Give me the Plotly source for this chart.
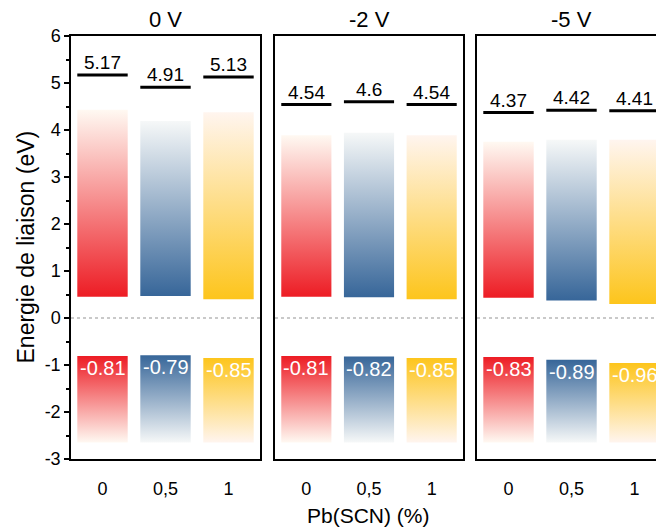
import plotly.graph_objects as go

# ---- data ----
categories = ["0", "0,5", "1"]
panels = ["0 V", "-2 V", "-5 V"]
y_tickvals = [-3, -2, -1, 0, 1, 2, 3, 4, 5, 6]
y_ticktext = ["-3", "-2", "-1", "0", "1", "2", "3", "4", "5", "6"]

line_0V = [5.17, 4.91, 5.13]
line_m2V = [4.54, 4.6, 4.54]
line_m5V = [4.37, 4.42, 4.41]

low_0V = [-0.81, -0.79, -0.85]
low_m2V = [-0.81, -0.82, -0.85]
low_m5V = [-0.83, -0.89, -0.96]

# upper gradient bars (bottom -> faded top)
up_top_0V = [4.43, 4.19, 4.38]
up_bot_0V = [0.45, 0.47, 0.40]
up_top_m2V = [3.89, 3.94, 3.89]
up_bot_m2V = [0.45, 0.44, 0.40]
up_top_m5V = [3.75, 3.79, 3.79]
up_bot_m5V = [0.43, 0.37, 0.30]

# lower gradient bars fade bottom
low_fade_0V = [-2.65, -2.65, -2.65]
low_fade_m2V = [-2.65, -2.65, -2.65]
low_fade_m5V = [-2.65, -2.65, -2.65]

# ---- style ----
colors = ["#ED1C24", "#376699", "#FDC51C"]
fade = ["#FFF9F2", "#F6F8F8", "#FFF5EF"]
FONT = "Liberation Sans, Arial, sans-serif"
HW = 0.4  # half bar width (category units)

lines = [line_0V, line_m2V, line_m5V]
lows = [low_0V, low_m2V, low_m5V]
up_tops = [up_top_0V, up_top_m2V, up_top_m5V]
up_bots = [up_bot_0V, up_bot_m2V, up_bot_m5V]
low_fades = [low_fade_0V, low_fade_m2V, low_fade_m5V]

domains = [[0.0, 189 / 585], [204 / 585, 392 / 585], [406 / 585, 1.0]]
xranges = [[-0.5, 2.5], [-0.5, 2.5], [-0.5, 2.341]]

fig = go.Figure()
annotations = []

for p in range(3):
    xa = "x" if p == 0 else f"x{p+1}"
    ya = "y" if p == 0 else f"y{p+1}"
    # zero dotted line
    fig.add_trace(go.Scatter(
        x=[xranges[p][0], xranges[p][1]], y=[0, 0], mode="lines",
        line=dict(color="#B8B8B8", width=1.5, dash="dot"),
        xaxis=xa, yaxis=ya, showlegend=False, hoverinfo="skip"))
    for i in range(3):
        xl, xr = i - HW, i + HW
        # upper gradient bar
        fig.add_trace(go.Scatter(
            x=[xl, xr, xr, xl, xl],
            y=[up_bots[p][i], up_bots[p][i], up_tops[p][i], up_tops[p][i], up_bots[p][i]],
            mode="lines", fill="toself",
            fillgradient=dict(type="vertical",
                              colorscale=[[0, colors[i]], [1, fade[i]]],
                              start=up_bots[p][i], stop=up_tops[p][i]),
            line=dict(width=0, color="rgba(0,0,0,0)"),
            xaxis=xa, yaxis=ya, showlegend=False, hoverinfo="skip"))
        # lower gradient bar
        fig.add_trace(go.Scatter(
            x=[xl, xr, xr, xl, xl],
            y=[low_fades[p][i], low_fades[p][i], lows[p][i], lows[p][i], low_fades[p][i]],
            mode="lines", fill="toself",
            fillgradient=dict(type="vertical",
                              colorscale=[[0, fade[i]], [1, colors[i]]],
                              start=low_fades[p][i], stop=lows[p][i]),
            line=dict(width=0, color="rgba(0,0,0,0)"),
            xaxis=xa, yaxis=ya, showlegend=False, hoverinfo="skip"))
        # black level line
        fig.add_trace(go.Scatter(
            x=[xl, xr], y=[lines[p][i], lines[p][i]], mode="lines",
            line=dict(color="black", width=3),
            xaxis=xa, yaxis=ya, showlegend=False, hoverinfo="skip"))
        annotations.append(dict(
            x=i, y=lines[p][i], xref=xa, yref=ya, text=f"{lines[p][i]:g}",
            showarrow=False, yanchor="bottom", yshift=0,
            font=dict(family=FONT, size=19, color="black")))
        annotations.append(dict(
            x=i, y=lows[p][i], xref=xa, yref=ya, text=f"{lows[p][i]:g}",
            showarrow=False, yanchor="top", yshift=1,
            font=dict(family=FONT, size=20, color="white")))
    # panel title
    annotations.append(dict(
        x=1, y=1, xref=xa, yref="paper", text=panels[p], showarrow=False,
        yanchor="middle", yshift=17,
        font=dict(family=FONT, size=22, color="black")))

annotations.append(dict(
    x=0.508, y=0, xref="paper", yref="paper", text="Pb(SCN) (%)", showarrow=False,
    yanchor="middle", yshift=-56, font=dict(family=FONT, size=21, color="black")))
annotations.append(dict(
    x=0, y=0.5, xref="paper", yref="paper", text="Energie de liaison (eV)",
    showarrow=False, textangle=-90, xanchor="center", yanchor="middle",
    xshift=-46, font=dict(family=FONT, size=23, color="black")))

layout = dict(
    width=656, height=530,
    margin=dict(l=71, r=0, t=36, b=71),
    paper_bgcolor="white", plot_bgcolor="white",
    font=dict(family=FONT, color="black"),
    annotations=annotations,
    showlegend=False,
)

for p in range(3):
    xk = "xaxis" if p == 0 else f"xaxis{p+1}"
    yk = "yaxis" if p == 0 else f"yaxis{p+1}"
    ya_anchor = "y" if p == 0 else f"y{p+1}"
    xa_anchor = "x" if p == 0 else f"x{p+1}"
    layout[xk] = dict(
        domain=domains[p], range=xranges[p], anchor=ya_anchor,
        tickmode="array", tickvals=[0, 1, 2], ticktext=categories,
        showgrid=False, zeroline=False, showline=True, linecolor="black",
        linewidth=1.5, mirror=True, ticks="", ticklabelstandoff=13,
        tickfont=dict(family=FONT, size=18, color="black"))
    yd = dict(
        range=[-3, 6], anchor=xa_anchor, domain=[0, 1],
        showgrid=False, zeroline=False, showline=True, linecolor="black",
        linewidth=1.5, mirror=(p < 2))
    if p == 0:
        yd.update(tickmode="array", tickvals=y_tickvals, ticktext=y_ticktext,
                  ticks="outside", ticklen=5, tickwidth=1.5, tickcolor="black",
                  minor=dict(tick0=-3, dtick=0.5, ticks="outside", ticklen=3,
                             tickwidth=1.5, tickcolor="black"),
                  tickfont=dict(family=FONT, size=18, color="black"))
    else:
        yd.update(showticklabels=False, ticks="")
    layout[yk] = yd

fig.update_layout(**layout)
fig.write_html(
    "out.html",
    config={"displayModeBar": False},
    post_script="document.body.style.margin='0';document.body.style.overflow='hidden';",
)
